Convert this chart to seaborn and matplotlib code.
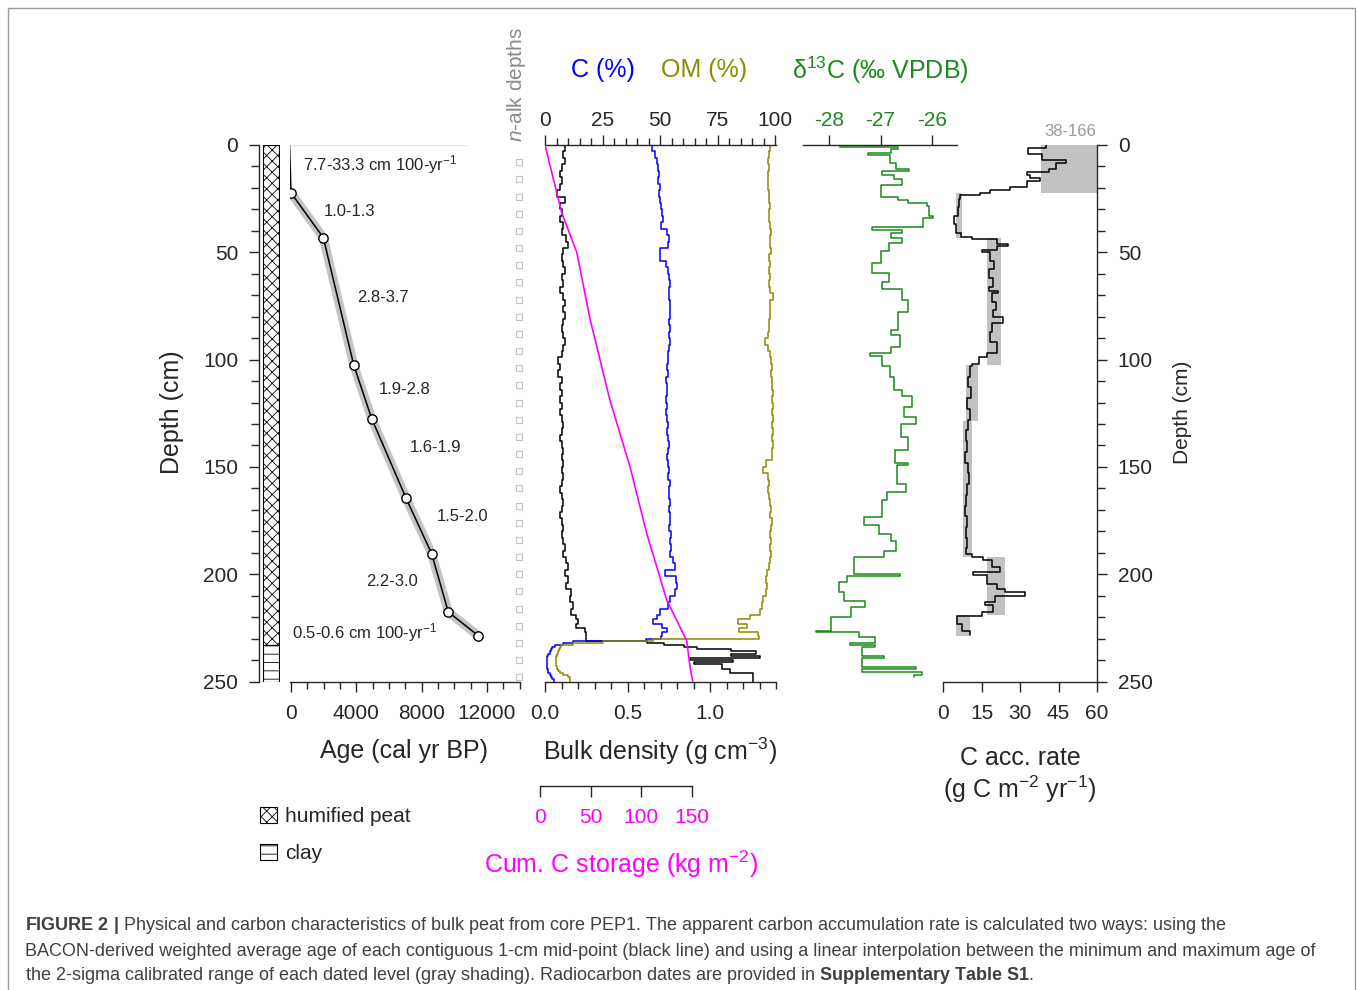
import numpy as np
import matplotlib
matplotlib.use("Agg")
import matplotlib.pyplot as plt
from matplotlib.patches import Patch, Rectangle
from matplotlib.ticker import MultipleLocator, FixedLocator
import seaborn as sns

# ---------------- data ----------------
# age-depth model (dated levels)
date_depth = [22.3, 43.2, 102.5, 127.5, 164.5, 190.4, 217.6, 228.7]
date_age = [0, 1980, 3840, 4940, 7040, 8610, 9630, 11470]
model_depth = [0, 22.3, 43.2, 102.5, 127.5, 164.5, 190.4, 217.6, 228.7]
model_age = [-90, 0, 1980, 3840, 4940, 7040, 8610, 9630, 11470]
rate_labels = ["7.7-33.3 cm 100-yr$^{-1}$", "1.0-1.3", "2.8-3.7", "1.9-2.8",
               "1.6-1.9", "1.5-2.0", "2.2-3.0", "0.5-0.6 cm 100-yr$^{-1}$"]
rate_age = [735, 2020, 4040, 5390, 7290, 8940, 4590, 60]
rate_depth = [9.3, 30.8, 70.9, 113.8, 140.9, 173.0, 203.4, 227.1]

# lithology
litho_names = ["humified peat", "clay"]
litho_top = [0, 233]
litho_bot = [233, 250]
litho_hatch = ["xxx", "--"]

# n-alkane sample depths
nalk_depths = [8, 16, 24, 32, 40, 48, 56, 64, 72, 80, 88, 96, 104, 112, 120, 128,
               136, 144, 152, 160, 168, 176, 184, 192, 200, 208, 216, 224, 232, 240, 248]

# shared depth intervals for bulk density, C and OM (cm)
prof_edges = [0, 3, 6, 9, 12, 15, 18, 21, 24, 27,
              30, 33, 36, 39, 42, 45, 48, 51, 54, 57,
              60, 63, 66, 69, 72, 75, 78, 81, 84, 87,
              90, 93, 96, 99, 102, 105, 108, 111, 114, 117,
              120, 123, 126, 129, 132, 135, 138, 141, 144, 147,
              150, 153, 156, 159, 162, 165, 168, 171, 174, 177,
              180, 183, 186, 189, 192, 195, 198, 201, 204, 207,
              210, 213, 216, 219, 221, 223, 225, 227, 229, 230,
              231, 232, 233, 234, 235, 236, 237, 238, 239, 240,
              241, 242, 243, 244, 245, 246, 247, 248, 249, 250]
bulk_density = [0.12, 0.11, 0.12, 0.10, 0.09, 0.10, 0.09, 0.07, 0.12, 0.09,
                0.10, 0.09, 0.11, 0.10, 0.13, 0.14, 0.11, 0.10, 0.11, 0.12,
                0.10, 0.11, 0.09, 0.11, 0.12, 0.11, 0.12, 0.11, 0.10, 0.11,
                0.12, 0.11, 0.10, 0.08, 0.09, 0.08, 0.10, 0.09, 0.10, 0.09,
                0.10, 0.09, 0.10, 0.11, 0.10, 0.09, 0.10, 0.11, 0.10, 0.11,
                0.10, 0.11, 0.10, 0.09, 0.10, 0.11, 0.10, 0.09, 0.10, 0.11,
                0.10, 0.11, 0.12, 0.11, 0.13, 0.14, 0.12, 0.14, 0.13, 0.16,
                0.15, 0.17, 0.16, 0.19, 0.20, 0.19, 0.24, 0.25, 0.25, 0.25,
                0.62, 0.72, 0.84, 0.92, 1.13, 1.28, 1.13, 1.30, 0.88, 1.14,
                0.90, 1.07, 1.07, 1.12, 1.12, 1.26, 1.26, 1.26, 1.26]
carbon_pct = [46.5, 47.8, 48.5, 49.3, 49.5, 49.3, 49.8, 49.5, 50.0, 50.5,
              50.8, 51.2, 50.5, 53.0, 54.0, 53.5, 50.0, 50.0, 52.8, 53.5,
              54.0, 54.3, 53.8, 54.0, 54.5, 54.2, 54.5, 54.0, 54.3, 54.0,
              54.2, 53.8, 53.5, 53.5, 53.0, 53.3, 52.8, 53.0, 53.2, 52.8,
              53.0, 52.8, 53.2, 53.5, 53.0, 53.3, 53.8, 53.5, 53.2, 53.6,
              54.0, 53.6, 54.2, 54.0, 53.8, 54.3, 54.0, 54.5, 54.2, 54.0,
              54.6, 54.3, 54.8, 54.5, 55.5, 56.5, 52.0, 57.0, 57.5, 56.5,
              54.5, 53.5, 50.0, 48.5, 47.0, 51.0, 53.0, 51.0, 50.5, 44.0,
              12.0, 8.0, 4.5, 3.0, 2.5, 2.0, 1.2, 1.0, 1.0, 1.0,
              1.0, 1.0, 1.0, 1.2, 1.5, 2.0, 2.5, 3.0, 4.0]
om_pct = [98.0, 97.5, 97.0, 97.2, 96.8, 97.0, 96.8, 97.5, 97.3, 97.8,
          97.5, 97.6, 98.0, 98.2, 97.8, 98.0, 98.3, 97.6, 97.8, 97.5,
          97.8, 97.6, 98.0, 99.2, 98.0, 97.8, 98.0, 97.6, 97.5, 96.8,
          95.8, 97.0, 97.8, 98.2, 98.5, 98.3, 98.8, 98.5, 99.0, 98.6,
          99.0, 98.8, 99.2, 98.8, 99.0, 98.6, 99.0, 98.8, 98.5, 96.0,
          94.9, 97.0, 97.2, 96.8, 97.3, 98.0, 98.3, 98.0, 98.5, 98.2,
          98.0, 98.4, 98.0, 98.3, 97.8, 97.5, 96.5, 96.2, 96.6, 96.0,
          94.8, 94.2, 93.5, 89.0, 84.0, 88.0, 84.5, 92.5, 93.0, 47.0,
          25.0, 12.0, 7.0, 6.5, 6.0, 5.5, 5.0, 4.8, 4.8, 4.8,
          4.8, 4.8, 5.0, 5.5, 6.5, 8.0, 10.0, 11.0, 11.0]

# cumulative C storage (kg m-2)
cumc_depth = [0, 31.5, 50, 81, 100, 119, 150, 181, 212, 231, 243, 250]
cumc_value = [0, 16.5, 31.4, 44.5, 54.4, 64.3, 84.1, 100.6, 120.4, 140.2, 143.4, 146.1]

# delta 13C (permil VPDB)
d13c_edges = [0, 1, 2, 3.5, 4.5, 8.5, 11, 12, 14, 16, 18.5, 24, 25.5, 27, 28.5, 33, 34,
              38, 39.5, 41, 43.5, 45.5, 49.5, 55, 59.5, 64, 67, 72, 78, 86, 88.5, 94, 97,
              98.5, 103, 108, 114, 117, 122, 126.7, 129.8, 136, 142.2, 148, 149, 157.8,
              161.7, 165.6, 173.4, 177.3, 181.2, 184.3, 189, 192.1, 200, 201, 203.8,
              208.5, 212.3, 215.4, 220.1, 226.3, 227, 229.4, 232, 233, 234, 238, 239,
              243.4, 244.4, 245.5, 246.8, 248]
d13c = [-27.79, -26.66, -26.80, -27.25, -26.82, -26.70, -26.45, -26.98, -26.74, -26.59,
        -27.00, -26.65, -26.47, -26.10, -26.05, -25.98, -26.17, -27.16, -26.59, -26.80,
        -26.59, -26.84, -27.00, -27.16, -26.84, -26.98, -26.59, -26.47, -26.66, -26.80,
        -26.62, -26.80, -27.20, -26.98, -26.82, -26.74, -26.59, -26.38, -26.54, -26.31,
        -26.60, -26.47, -26.71, -26.46, -26.67, -26.50, -26.87, -26.97, -27.33, -27.03,
        -26.80, -26.70, -26.94, -27.52, -26.62, -27.65, -27.81, -27.71, -27.30, -27.58,
        -27.97, -28.25, -27.42, -27.10, -27.60, -27.10, -27.36, -26.94, -27.36, -26.31,
        -27.36, -26.20, -26.35]

# apparent C accumulation rate (g C m-2 yr-1), BACON 1-cm
acc_edges = [0, 1.5, 4, 7, 8.5, 11, 12.5, 14, 15.5, 17, 19.5, 21, 22.5, 23.5, 25, 29, 33,
             37, 41, 43, 44, 46, 47, 49, 50, 54, 58, 62, 66, 68, 69, 73, 77, 80, 83, 87,
             92, 97, 99, 102, 103, 108, 113, 118, 123, 128, 133, 138, 143, 148, 153, 158,
             163, 168, 173, 178, 183, 188, 190.5, 192, 193.5, 196.5, 199, 200.5, 204.5,
             207, 208.5, 210, 213, 214.5, 217.5, 219.5, 223, 226.5, 228.5]
acc_rate = [40.0, 33.0, 38.7, 48.0, 44.2, 41.3, 32.6, 34.0, 37.8, 32.6,
            26.1, 18.3, 14.4, 6.6, 6.2, 5.8, 4.2, 5.2, 7.2, 11.2,
            20.9, 25.5, 20.9, 15.0, 18.5, 20.0, 17.8, 19.5, 18.0, 21.5,
            19.0, 20.5, 19.5, 23.5, 19.0, 18.5, 20.9, 17.0, 14.0, 11.2,
            10.5, 9.8, 10.8, 9.5, 10.5, 9.8, 9.0, 9.5, 8.5, 9.8,
            10.2, 9.5, 9.0, 8.5, 9.2, 8.8, 9.4, 9.0, 11.2, 15.7,
            19.0, 22.2, 11.8, 17.0, 20.9, 24.2, 31.9, 20.3, 16.4, 19.6,
            15.0, 5.5, 7.4, 10.5]
# 2-sigma range based rates (gray shading)
acc_sh_top = [0, 22.3, 43.2, 102.6, 128.6, 191.8, 218.9]
acc_sh_bot = [22.3, 43.2, 102.6, 128.6, 191.8, 218.9, 228.6]
acc_sh_lo = [38, 5.1, 17.0, 9.0, 7.9, 17.3, 5.1]
acc_sh_hi = [166, 7.3, 22.5, 13.8, 11.2, 24.2, 10.5]

caption_lines = [
    r"$\bf{FIGURE\ 2\ |}$ Physical and carbon characteristics of bulk peat from core PEP1. "
    "The apparent carbon accumulation rate is calculated two ways: using the",
    "BACON-derived weighted average age of each contiguous 1-cm mid-point (black line) "
    "and using a linear interpolation between the minimum and maximum age of",
    "the 2-sigma calibrated range of each dated level (gray shading). Radiocarbon dates "
    r"are provided in $\bf{Supplementary\ Table\ S1}$.",
]

# ---------------- style ----------------
sns.set_style("ticks")
plt.rcParams["font.family"] = ["Liberation Sans", "DejaVu Sans"]
plt.rcParams["mathtext.fontset"] = "custom"
plt.rcParams["mathtext.rm"] = "Liberation Sans"
plt.rcParams["mathtext.it"] = "Liberation Sans:italic"
plt.rcParams["mathtext.bf"] = "Liberation Sans:bold"
plt.rcParams["mathtext.default"] = "regular"
plt.rcParams["axes.unicode_minus"] = False
plt.rcParams["hatch.linewidth"] = 0.6
plt.rcParams["axes.linewidth"] = 1.0

BLUE, OLIVE, GREEN, MAG = "#0000ff", "#8c8c00", "#1a8a1a", "#ff00ff"
W, H = 1357, 990
fig = plt.figure(figsize=(W / 100, H / 100), dpi=100)


def box(x0, y0, x1, y1):
    return [x0 / W, 1 - y1 / H, (x1 - x0) / W, (y1 - y0) / H]


def ftext(x, y, s, **kw):
    fig.text(x / W, 1 - y / H, s, **kw)


def steps(edges, vals):
    e = np.asarray(edges, float)
    v = np.asarray(vals, float)
    return np.repeat(v, 2), np.repeat(e, 2)[1:-1]


def step_line(ax, edges, vals, color, lw=1.1):
    x, y = steps(edges, vals)
    sns.lineplot(x=x, y=y, sort=False, estimator=None, color=color, lw=lw, ax=ax)


def bare(ax, keep=()):
    for s in ["left", "right", "top", "bottom"]:
        ax.spines[s].set_visible(s in keep)
    ax.patch.set_alpha(0)
    ax.set_ylim(250, 0)


TOP, BOT = 145, 681.5

# lithology column with depth axis
ax_lith = fig.add_axes(box(259, TOP, 280, BOT))
bare(ax_lith, keep=("left",))
ax_lith.set_xlim(0, 1)
ax_lith.set_xticks([])
for t, b, h in zip(litho_top, litho_bot, litho_hatch):
    ax_lith.fill_betweenx([t, b], 0.2, 0.95, facecolor="white", edgecolor="black",
                          hatch=h, lw=0.8)
ax_lith.yaxis.set_major_locator(FixedLocator([0, 50, 100, 150, 200, 250]))
ax_lith.yaxis.set_minor_locator(MultipleLocator(10))
ax_lith.tick_params(axis="y", which="major", length=7, width=1, labelsize=15, pad=8)
ax_lith.tick_params(axis="y", which="minor", length=6, width=1)

# age-depth model
ax_age = fig.add_axes(box(290, TOP, 520, BOT))
bare(ax_age, keep=("bottom",))
ax_age.set_xlim(-61, 14020)
ax_age.set_yticks([])
ax_age.xaxis.set_major_locator(FixedLocator([0, 4000, 8000, 12000]))
ax_age.xaxis.set_minor_locator(MultipleLocator(1000))
ax_age.tick_params(axis="x", which="major", length=7, width=1, labelsize=15, pad=9)
ax_age.tick_params(axis="x", which="minor", length=5, width=1)
ax_age.axhline(0, xmin=0, xmax=0.77, color="#e6e6e6", lw=1)
sns.lineplot(x=model_age[1:], y=model_depth[1:], sort=False, estimator=None,
             color="#c4c4c4", lw=6.5, ax=ax_age)
sns.lineplot(x=model_age, y=model_depth, sort=False, estimator=None,
             color="black", lw=1.1, ax=ax_age)
sns.scatterplot(x=date_age, y=date_depth, s=45, color="white", edgecolor="black",
                linewidth=1, zorder=5, ax=ax_age)
for s, a, d in zip(rate_labels, rate_age, rate_depth):
    ax_age.text(a, d, s, fontsize=12, ha="left", va="center")

# n-alkane sample markers
ax_nalk = fig.add_axes(box(512, TOP, 526, BOT))
bare(ax_nalk)
ax_nalk.set_xlim(0, 1)
ax_nalk.set_xticks([])
ax_nalk.set_yticks([])
sns.scatterplot(x=[0.5] * len(nalk_depths), y=nalk_depths, marker="s", s=14,
                color="white", edgecolor="#c4c4c4", linewidth=0.8, ax=ax_nalk)

# bulk density / C / OM / cumulative C
ax_bd = fig.add_axes(box(545, TOP, 776, BOT))
bare(ax_bd, keep=("bottom",))
ax_bd.set_xlim(0, 1.4)
ax_bd.set_yticks([])
ax_bd.xaxis.set_major_locator(FixedLocator([0, 0.5, 1.0]))
ax_bd.xaxis.set_minor_locator(MultipleLocator(0.1))
ax_bd.set_xticklabels(["0.0", "0.5", "1.0"])
ax_bd.tick_params(axis="x", which="major", length=7, width=1, labelsize=15, pad=9)
ax_bd.tick_params(axis="x", which="minor", length=5, width=1)
step_line(ax_bd, prof_edges, bulk_density, "black")

ax_c = ax_bd.twiny()
bare(ax_c, keep=("top",))
ax_c.set_xlim(0, 100.43)
ax_c.xaxis.set_major_locator(FixedLocator([0, 25, 50, 75, 100]))
ax_c.xaxis.set_minor_locator(MultipleLocator(5))
ax_c.tick_params(axis="x", which="major", length=7, width=1, labelsize=15, pad=3.5)
ax_c.tick_params(axis="x", which="minor", length=5, width=1)
step_line(ax_c, prof_edges, carbon_pct, BLUE)
step_line(ax_c, prof_edges, om_pct, OLIVE)

ax_cl = ax_bd.twiny()
bare(ax_cl)
ax_cl.set_xlim(0, 228.5)
ax_cl.set_xticks([])
sns.lineplot(x=cumc_value, y=cumc_depth, sort=False, estimator=None, color=MAG,
             lw=1.2, ax=ax_cl)
ax_bd.set_ylim(250, 0)

ax_cum = fig.add_axes(box(540, 785, 771, 786))
for s in ["left", "right", "top"]:
    ax_cum.spines[s].set_visible(False)
ax_cum.patch.set_alpha(0)
ax_cum.set_xlim(0, 228.5)
ax_cum.spines["bottom"].set_bounds(0, 150)
ax_cum.set_yticks([])
ax_cum.set_xticks([0, 50, 100, 150])
ax_cum.tick_params(axis="x", length=8, width=1, labelsize=15, labelcolor=MAG, pad=8)

# delta 13C
ax_d = fig.add_axes(box(803, TOP, 957, BOT))
bare(ax_d, keep=("top",))
ax_d.set_xlim(-28.51, -25.51)
ax_d.set_yticks([])
ax_d.xaxis.tick_top()
ax_d.set_xticks([-28, -27, -26])
ax_d.tick_params(axis="x", length=7, width=1, labelsize=15, labelcolor=GREEN, pad=3.5)
step_line(ax_d, d13c_edges, d13c, GREEN)

# carbon accumulation rate
ax_acc = fig.add_axes(box(943, TOP, 1097, BOT))
bare(ax_acc, keep=("bottom", "right"))
ax_acc.set_xlim(0, 60)
for t, b, lo, hi in zip(acc_sh_top, acc_sh_bot, acc_sh_lo, acc_sh_hi):
    ax_acc.fill_betweenx([t, b], lo, hi, color="#c2c2c2", lw=0)
step_line(ax_acc, acc_edges, acc_rate, "black")
ax_acc.set_xticks([0, 15, 30, 45, 60])
ax_acc.tick_params(axis="x", length=7, width=1, labelsize=15, pad=9)
ax_acc.yaxis.tick_right()
ax_acc.yaxis.set_major_locator(FixedLocator([0, 50, 100, 150, 200, 250]))
ax_acc.yaxis.set_minor_locator(MultipleLocator(10))
ax_acc.tick_params(axis="y", which="major", length=7, width=1, labelsize=15, pad=8)
ax_acc.tick_params(axis="y", which="minor", length=6, width=1)
ax_acc.set_ylim(250, 0)

for ax in [ax_lith, ax_age, ax_nalk, ax_bd, ax_c, ax_cl, ax_d, ax_acc]:
    ax.set_xlabel("")
    ax.set_ylabel("")

# ---------------- texts ----------------
ftext(172, 412, "Depth (cm)", fontsize=18, rotation=90, ha="center", va="center")
ftext(1183, 412, "Depth (cm)", fontsize=15, rotation=90, ha="center", va="center")
ftext(404, 751, "Age (cal yr BP)", fontsize=18, ha="center", va="center")
ftext(660, 751, "Bulk density (g cm$^{-3}$)", fontsize=18, ha="center", va="center")
ftext(621, 864, "Cum. C storage (kg m$^{-2}$)", fontsize=18, color=MAG, ha="center",
      va="center")
ftext(1020, 758, "C acc. rate", fontsize=18, ha="center", va="center")
ftext(1020, 789, "(g C m$^{-2}$ yr$^{-1}$)", fontsize=18, ha="center", va="center")
ftext(603, 70, "C (%)", fontsize=18, color=BLUE, ha="center", va="center")
ftext(704, 70, "OM (%)", fontsize=18, color=OLIVE, ha="center", va="center")
ftext(880, 70, "δ$^{13}$C (‰ VPDB)", fontsize=18, color=GREEN, ha="center", va="center")
ftext(516, 85, r"$\it{n}$-alk depths", fontsize=15, color="#8a8a8a", rotation=90,
      ha="center", va="center")
ftext(1070, 132, "38-166", fontsize=12, color="#999999", ha="center", va="center")

handles = [Patch(facecolor="white", edgecolor="black", hatch=h, lw=0.8, label=n)
           for n, h in zip(litho_names, litho_hatch)]
fig.legend(handles=handles, loc="upper left", bbox_to_anchor=(260 / W, 1 - 807 / H),
           frameon=False, fontsize=15, handlelength=0.8, handleheight=0.8,
           handletextpad=0.4, labelspacing=0.85, borderpad=0, borderaxespad=0)

for i, line in enumerate(caption_lines):
    ftext(25, 926 + 25 * i, line, fontsize=13, color="#404040", ha="left", va="center")

fig.patches.append(Rectangle((8 / W, -0.1), 1347 / W, 1 - 8 / H + 0.1,
                             transform=fig.transFigure, fill=False,
                             edgecolor="#9a9a9a", lw=1))

fig.savefig("out.png", dpi=100)
